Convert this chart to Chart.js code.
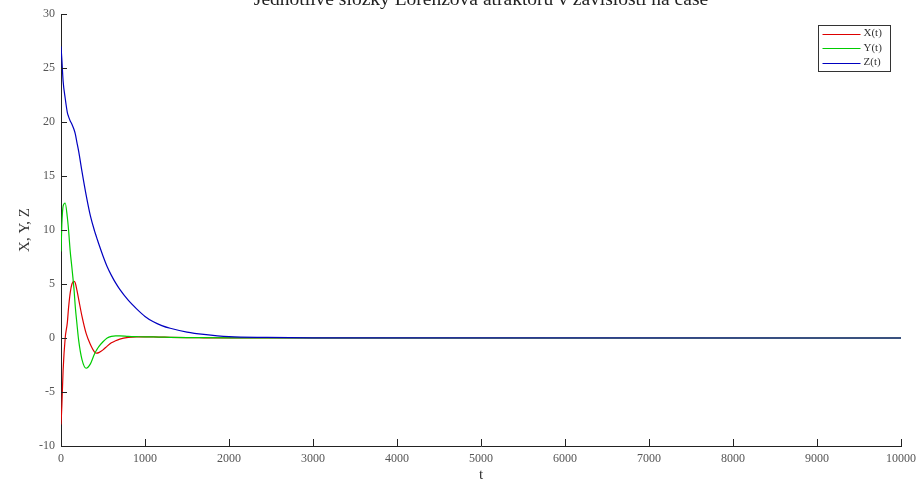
<!DOCTYPE html>
<html>
<head>
<meta charset="utf-8">
<script src="https://cdn.jsdelivr.net/npm/chart.js@4.4.1/dist/chart.umd.min.js"></script>
<style>
  html, body { margin: 0; padding: 0; background: #fff; }
  #wrap { width: 920px; height: 487px; position: relative; }
</style>
</head>
<body>
<div id="wrap"><canvas id="lorenzChart"></canvas></div>
<script>
// values
const times   = [0, 10, 25, 50, 75, 90, 110, 130, 155, 170, 190, 210, 250, 300, 350, 400, 425, 450, 500, 550, 600, 650, 700, 800, 900, 1000, 1100, 1200, 1300, 1500, 1700, 2000, 2450, 3000, 10000];
const xValues = [-8.0, -6.3, -3.0, 0.0, 1.4, 2.8, 4.2, 5.0, 5.25, 5.1, 4.4, 3.6, 2.0, 0.4, -0.6, -1.3, -1.4, -1.35, -1.1, -0.75, -0.45, -0.25, -0.1, 0.05, 0.1, 0.1, 0.1, 0.08, 0.06, 0.03, 0.02, 0.01, 0, 0, 0];
const yValues = [8.0, 10.5, 12.2, 12.5, 11.2, 10.0, 8.0, 6.5, 4.5, 2.9, 1.3, -0.2, -2.0, -2.8, -2.4, -1.45, -1.1, -0.8, -0.35, 0.0, 0.15, 0.2, 0.2, 0.15, 0.12, 0.1, 0.1, 0.08, 0.06, 0.04, 0.03, 0.02, 0.01, 0, 0];
const zValues = [27.0, 25.8, 23.8, 22.2, 20.9, 20.5, 20.1, 19.8, 19.3, 18.9, 18.1, 17.3, 15.4, 13.2, 11.3, 9.9, 9.3, 8.7, 7.6, 6.6, 5.8, 5.1, 4.5, 3.5, 2.7, 2.0, 1.5, 1.15, 0.9, 0.55, 0.33, 0.12, 0.05, 0.02, 0];

const seriesLabels = ['X(t)', 'Y(t)', 'Z(t)'];
const seriesColors = ['#dd0000', '#00cc00', '#0000c0'];
const titleText = 'Jednotlivé složky Lorenzova atraktoru v závislosti na čase';
const serif = '"Liberation Serif", "DejaVu Serif", serif';

const toPoints = (vals) => vals.map((v, i) => ({ x: times[i], y: v }));

// title sits mostly above the canvas edge, like in the original export
const titlePlugin = {
  id: 'cutTitle',
  afterDraw(chart) {
    const { ctx, chartArea } = chart;
    ctx.save();
    ctx.font = '19.5px ' + serif;
    ctx.fillStyle = '#222';
    ctx.textAlign = 'center';
    ctx.textBaseline = 'alphabetic';
    ctx.fillText(titleText, (chartArea.left + chartArea.right) / 2, 5);
    ctx.restore();
  }
};

// inward tick marks
const tickPlugin = {
  id: 'innerTicks',
  afterDraw(chart) {
    const { ctx, chartArea, scales } = chart;
    ctx.save();
    ctx.strokeStyle = '#222';
    ctx.lineWidth = 1;
    ctx.beginPath();
    scales.y.ticks.forEach(t => {
      const py = Math.round(scales.y.getPixelForValue(t.value)) + 0.5;
      ctx.moveTo(chartArea.left, py);
      ctx.lineTo(chartArea.left + 6, py);
    });
    scales.x.ticks.forEach(t => {
      const px = Math.round(scales.x.getPixelForValue(t.value)) + 0.5;
      ctx.moveTo(px, chartArea.bottom);
      ctx.lineTo(px, chartArea.bottom - 7);
    });
    ctx.stroke();
    ctx.restore();
  }
};

// boxed legend in the top right corner
const legendPlugin = {
  id: 'boxLegend',
  afterDraw(chart) {
    const { ctx } = chart;
    const sets = chart.data.datasets;
    const x0 = 818.5, y0 = 25.5, w = 72, h = 46;
    ctx.save();
    ctx.fillStyle = '#fff';
    ctx.fillRect(x0, y0, w, h);
    ctx.strokeStyle = '#333';
    ctx.lineWidth = 1;
    ctx.strokeRect(x0, y0, w, h);
    ctx.font = '11px ' + serif;
    ctx.textBaseline = 'middle';
    ctx.textAlign = 'left';
    sets.forEach((ds, i) => {
      const yy = y0 + 8 + i * 14.5;
      ctx.strokeStyle = ds.borderColor;
      ctx.beginPath();
      ctx.moveTo(x0 + 4, Math.round(yy) + 0.5);
      ctx.lineTo(x0 + 42, Math.round(yy) + 0.5);
      ctx.stroke();
      ctx.fillStyle = '#333';
      ctx.fillText(ds.label, x0 + 45, yy);
    });
    ctx.restore();
  }
};

new Chart(document.getElementById('lorenzChart'), {
  type: 'line',
  data: {
    datasets: [
      { label: seriesLabels[0], data: toPoints(xValues), borderColor: seriesColors[0], order: 2 },
      { label: seriesLabels[1], data: toPoints(yValues), borderColor: seriesColors[1], order: 1 },
      { label: seriesLabels[2], data: toPoints(zValues), borderColor: seriesColors[2], order: 0 }
    ]
  },
  options: {
    responsive: true,
    maintainAspectRatio: false,
    animation: false,
    layout: { padding: { top: 14, right: 19, left: 0, bottom: 0 } },
    elements: {
      point: { radius: 0 },
      line: { borderWidth: 1.2, cubicInterpolationMode: 'monotone', fill: false }
    },
    plugins: {
      legend: { display: false },
      title: { display: false },
      tooltip: { enabled: false }
    },
    scales: {
      x: {
        type: 'linear',
        min: 0,
        max: 10000,
        ticks: {
          stepSize: 1000, padding: 6, color: '#555', maxRotation: 0,
          font: { family: serif, size: 12 },
          callback: (v) => String(v)
        },
        grid: { display: false, drawTicks: false },
        border: { display: true, color: '#222', width: 1 },
        title: { display: true, text: 't', color: '#333', font: { family: serif, size: 15 }, padding: { top: 0, bottom: 3 } },
        afterFit(scale) {
          scale.height = 41;
          scale.paddingLeft = 0;
          scale.paddingRight = 0;
        }
      },
      y: {
        min: -10,
        max: 30,
        ticks: { stepSize: 5, padding: 6, color: '#555', font: { family: serif, size: 12 } },
        grid: { display: false, drawTicks: false },
        border: { display: true, color: '#222', width: 1 },
        title: { display: true, text: 'X, Y, Z', color: '#333', font: { family: serif, size: 15 }, padding: { top: 16, bottom: 0 } },
        afterFit(scale) {
          scale.width = 61;
          scale.paddingTop = 0;
          scale.paddingBottom = 0;
        }
      }
    }
  },
  plugins: [titlePlugin, tickPlugin, legendPlugin]
});
</script>
</body>
</html>
